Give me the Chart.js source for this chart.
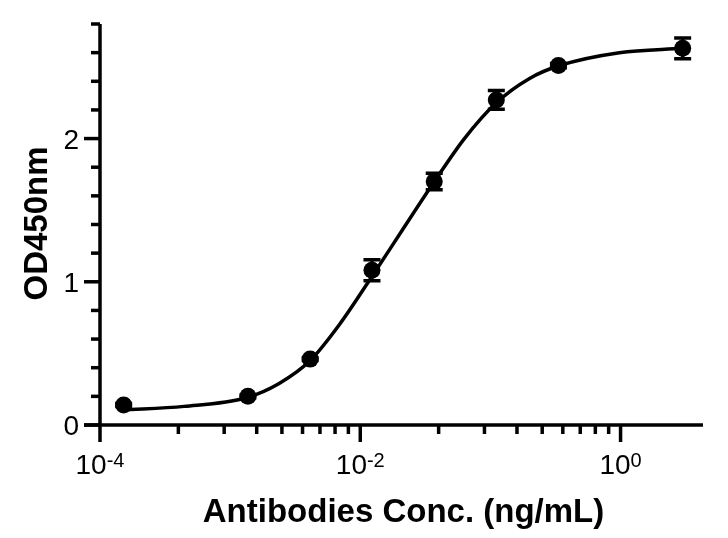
<!DOCTYPE html>
<html>
<head>
<meta charset="utf-8">
<script src="https://cdn.jsdelivr.net/npm/chart.js@4.4.1/dist/chart.umd.min.js"></script>
<style>
  body { margin: 0; background: #fff; }
  #wrap { width: 728px; height: 538px; }
</style>
</head>
<body>
<div id="wrap"><canvas id="chart" width="728" height="538"></canvas></div>
<script>
// measured points (ng/mL vs OD450)
const conc = [0.000152, 0.00137, 0.00412, 0.0123, 0.037, 0.111, 0.333, 3.0];
const od = [0.14, 0.20, 0.46, 1.08, 1.70, 2.27, 2.51, 2.63];
const odErr = [0.01, 0.01, 0.01, 0.073, 0.058, 0.065, 0.015, 0.073];

// fitted curve
const curveX = [0.000148, 0.000443, 0.00133, 0.00238, 0.00412, 0.0069, 0.01236, 0.021, 0.0371, 0.0631, 0.111, 0.2, 0.34, 0.98, 3.0];
const curveY = [0.105, 0.13, 0.19, 0.29, 0.45, 0.70, 1.04, 1.36, 1.70, 2.00, 2.25, 2.42, 2.51, 2.60, 2.63];

// axes
const xMajor = [1e-4, 1e-2, 1];
const xMajorExp = ['-4', '-2', '0'];
const xMinor = [4e-4, 9e-4, 16e-4, 25e-4, 36e-4, 49e-4, 64e-4, 81e-4,
                0.04, 0.09, 0.16, 0.25, 0.36, 0.49, 0.64, 0.81];
const yMajor = [0, 1, 2];
const yMinor = [0.2, 0.4, 0.6, 0.8, 1.2, 1.4, 1.6, 1.8, 2.2, 2.4, 2.6, 2.8];

const xTitle = 'Antibodies Conc. (ng/mL)';
const yTitle = 'OD450nm';

const FONT = '"Liberation Sans", Arial, sans-serif';

// axis lines, ticks, labels and titles
const axesPlugin = {
    id: 'prismAxes',
    beforeDatasetsDraw(chart) {
        const ctx = chart.ctx;
        const xs = chart.scales.x;
        const ys = chart.scales.y;
        const area = chart.chartArea;
        const y0 = ys.getPixelForValue(0);
        const x0 = xs.left;

        ctx.save();
        ctx.strokeStyle = '#000';
        ctx.lineWidth = 3.5;
        ctx.lineCap = 'butt';

        const line = (ax, ay, bx, by) => {
            ctx.beginPath();
            ctx.moveTo(ax, ay);
            ctx.lineTo(bx, by);
            ctx.stroke();
        };

        // axis lines
        line(x0, area.top, x0, y0);
        line(x0 - 16, y0, area.right, y0);

        // y ticks
        yMajor.forEach(v => {
            const py = ys.getPixelForValue(v);
            line(x0 - 16, py, x0, py);
        });
        yMinor.forEach(v => {
            const py = ys.getPixelForValue(v);
            line(x0 - 9, py, x0, py);
        });

        // x ticks
        xMajor.forEach(v => {
            const px = xs.getPixelForValue(v);
            line(px, y0, px, y0 + 17);
        });
        xMinor.forEach(v => {
            const px = xs.getPixelForValue(v);
            line(px, y0, px, y0 + 9);
        });

        ctx.fillStyle = '#000';

        // y tick labels
        ctx.font = '28px ' + FONT;
        ctx.textAlign = 'right';
        ctx.textBaseline = 'alphabetic';
        yMajor.forEach(v => {
            const py = ys.getPixelForValue(v);
            ctx.fillText(String(v), x0 - 21, py + 10);
        });

        // x tick labels, 10 with superscript exponent
        ctx.textAlign = 'left';
        xMajor.forEach((v, i) => {
            const px = xs.getPixelForValue(v);
            ctx.font = '28px ' + FONT;
            const wBase = ctx.measureText('10').width;
            ctx.font = '20px ' + FONT;
            const wExp = ctx.measureText(xMajorExp[i]).width;
            const start = px - (wBase + wExp) / 2;
            ctx.font = '28px ' + FONT;
            ctx.fillText('10', start, y0 + 49);
            ctx.font = '20px ' + FONT;
            ctx.fillText(xMajorExp[i], start + wBase, y0 + 42);
        });

        // axis titles
        ctx.font = 'bold 33px ' + FONT;
        ctx.textAlign = 'center';
        ctx.fillText(xTitle, (area.left + area.right) / 2 + 2, 522);

        ctx.save();
        ctx.translate(47, (area.top + area.bottom) / 2 - 1);
        ctx.rotate(-Math.PI / 2);
        ctx.fillText(yTitle, 0, 0);
        ctx.restore();

        ctx.restore();
    },
    afterDatasetsDraw(chart) {
        // error bars
        const ctx = chart.ctx;
        const xs = chart.scales.x;
        const ys = chart.scales.y;
        ctx.save();
        ctx.strokeStyle = '#000';
        ctx.lineWidth = 3.5;
        conc.forEach((c, i) => {
            const px = xs.getPixelForValue(c);
            const top = ys.getPixelForValue(od[i] + odErr[i]);
            const bot = ys.getPixelForValue(od[i] - odErr[i]);
            ctx.beginPath();
            ctx.moveTo(px, top);
            ctx.lineTo(px, bot);
            ctx.moveTo(px - 8.5, top);
            ctx.lineTo(px + 8.5, top);
            ctx.moveTo(px - 8.5, bot);
            ctx.lineTo(px + 8.5, bot);
            ctx.stroke();
        });
        ctx.restore();
    }
};

new Chart(document.getElementById('chart'), {
    type: 'scatter',
    data: {
        datasets: [
            {
                label: 'OD450',
                data: conc.map((c, i) => ({ x: c, y: od[i] })),
                pointRadius: 8.5,
                pointHoverRadius: 8.5,
                pointBackgroundColor: '#000',
                pointBorderWidth: 0,
                showLine: false,
                order: 0
            },
            {
                label: 'Fit',
                data: curveX.map((c, i) => ({ x: c, y: curveY[i] })),
                showLine: true,
                borderColor: '#000',
                borderWidth: 3.5,
                pointRadius: 0,
                cubicInterpolationMode: 'monotone',
                order: 1
            }
        ]
    },
    options: {
        responsive: false,
        animation: false,
        layout: { padding: { left: 100, right: 25, top: 24, bottom: 113 } },
        plugins: {
            legend: { display: false },
            tooltip: { enabled: false }
        },
        scales: {
            x: { type: 'logarithmic', min: 1e-4, max: 4.3, display: false },
            y: { type: 'linear', min: 0, max: 2.8, display: false }
        }
    },
    plugins: [axesPlugin]
});
</script>
</body>
</html>
